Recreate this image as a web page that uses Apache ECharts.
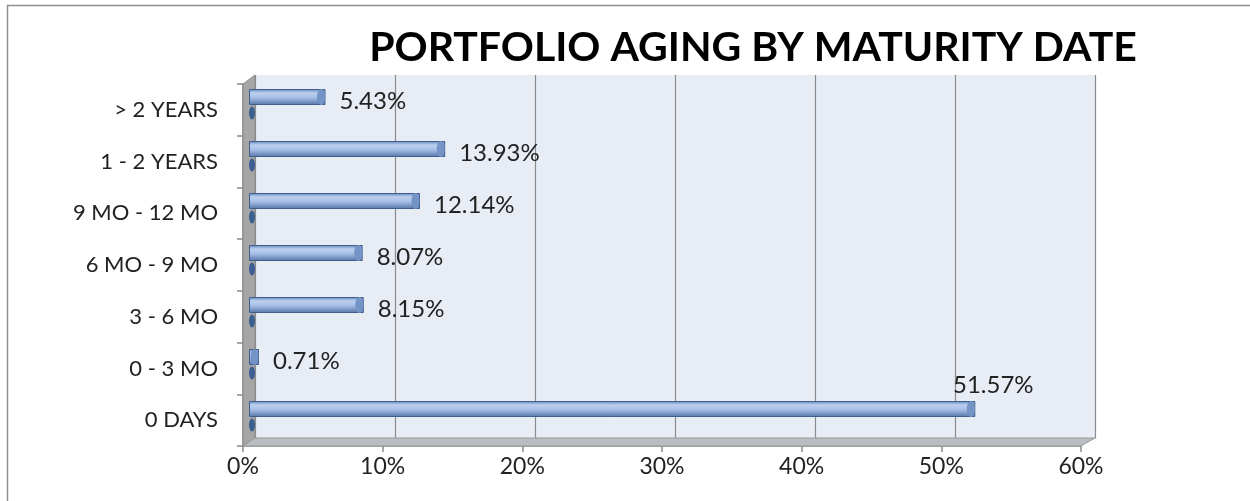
<!DOCTYPE html>
<html>
<head>
<meta charset="utf-8">
<script src="https://cdn.jsdelivr.net/npm/echarts@6/dist/echarts.min.js"></script>
<style>
  html, body { margin: 0; padding: 0; background: #fff; }
  #chart { width: 1250px; height: 501px; }
</style>
</head>
<body>
<div id="chart"></div>
<script>
// 数据
var categories = ['0 DAYS', '0 - 3 MO', '3 - 6 MO', '6 MO - 9 MO', '9 MO - 12 MO', '1 - 2 YEARS', '> 2 YEARS'];
var shares = [51.57, 0.71, 8.15, 8.07, 12.14, 13.93, 5.43];
var tickValues = [0, 10, 20, 30, 40, 50, 60];

(function () {
    var myChart = echarts.init(document.getElementById('chart'));
    var font = 'Lato';
    var gridLine = '#8c8c8c';

    // 柱子的圆柱渐变
    var tubeColor = new echarts.graphic.LinearGradient(0, 0, 0, 1, [
        { offset: 0, color: '#6283b8' },
        { offset: 0.25, color: '#bcd0f0' },
        { offset: 0.55, color: '#a5bee6' },
        { offset: 1, color: '#5373a6' }
    ]);

    // 超长的那根把标签放到末端上方
    var barData = shares.map(function (v) {
        if (v > 40) {
            return { value: v, label: { position: ['100%', -4], align: 'center', verticalAlign: 'bottom', offset: [18, 0] } };
        }
        return v;
    });

    var option = {
        animation: false,
        textStyle: { fontFamily: font },
        title: {
            text: 'PORTFOLIO AGING BY MATURITY DATE',
            left: 748,
            top: 22,
            textAlign: 'center',
            textStyle: { fontFamily: font, fontSize: 41, fontWeight: 'bold', color: '#000' }
        },
        graphic: [
            // 外框
            { type: 'rect', shape: { x: 7.5, y: 5.5, width: 1260, height: 520 },
              style: { fill: 'none', stroke: '#8e8e8e', lineWidth: 1.5 }, silent: true },
            // 左侧墙
            { type: 'polygon', shape: { points: [[243, 84], [255, 75], [255, 438], [243, 446]] },
              style: { fill: '#a6a6a6', stroke: '#8a8a8a', lineWidth: 1 }, silent: true, z: 1 },
            // 底板
            { type: 'polygon', shape: { points: [[243, 446], [255, 438], [1095, 438], [1081, 446]] },
              style: { fill: '#b9bcc0', stroke: '#9a9a9a', lineWidth: 1 }, silent: true, z: 1 }
        ],
        grid: [
            // 背墙
            { left: 255, right: 155, top: 75, bottom: 63, show: true, backgroundColor: '#e8ecf5', borderWidth: 0 },
            // 前面的坐标轴
            { left: 243, right: 169, top: 84, bottom: 55 },
            // 柱子
            { left: 249, right: 156, top: 71, bottom: 66 }
        ],
        xAxis: [
            { gridIndex: 0, type: 'value', min: 0, max: 60, interval: 10,
              axisLine: { show: true, lineStyle: { color: gridLine } }, axisTick: { show: false }, axisLabel: { show: false },
              splitLine: { show: true, lineStyle: { color: gridLine, width: 1.2 } } },
            { gridIndex: 1, type: 'value', min: 0, max: 60, interval: 10,
              axisLine: { show: true, lineStyle: { color: '#8a8a8a', width: 1.5 } },
              axisTick: { show: true, length: 6, lineStyle: { color: '#8a8a8a', width: 1.5 } },
              splitLine: { show: false },
              axisLabel: { margin: 9, fontSize: 23, color: '#222', fontFamily: font,
                           formatter: function (v) { return tickValues.indexOf(v) >= 0 ? v + '%' : ''; } } },
            { gridIndex: 2, type: 'value', min: 0, max: 60, interval: 10, show: false }
        ],
        yAxis: [
            { gridIndex: 0, type: 'category', data: categories, show: false },
            { gridIndex: 1, type: 'category', data: categories,
              axisLine: { show: true, lineStyle: { color: '#8a8a8a', width: 1.5 } },
              axisTick: { show: true, length: 6, lineStyle: { color: '#8a8a8a', width: 1.5 } },
              axisLabel: { margin: 25, fontSize: 22, color: '#222', fontFamily: font } },
            { gridIndex: 2, type: 'category', data: categories, show: false }
        ],
        series: [
            {
                name: 'Share',
                type: 'bar',
                xAxisIndex: 2,
                yAxisIndex: 2,
                barWidth: 16,
                z: 3,
                data: barData,
                itemStyle: { color: tubeColor, borderColor: '#3f5f8f', borderWidth: 1 },
                label: {
                    show: true,
                    position: 'right',
                    distance: 14,
                    offset: [0, 4],
                    fontSize: 24,
                    color: '#222',
                    fontFamily: font,
                    formatter: function (p) { return p.value.toFixed(2) + '%'; }
                }
            },
            {
                // 圆柱末端
                name: 'cap',
                type: 'pictorialBar',
                xAxisIndex: 2,
                yAxisIndex: 2,
                symbol: 'circle',
                symbolPosition: 'end',
                symbolSize: [8, 16],
                z: 4,
                data: shares,
                itemStyle: { color: '#7493c6', borderColor: '#3a5a8a', borderWidth: 1.2 },
                silent: true
            },
            {
                // 左端的小影子
                name: 'foot',
                type: 'pictorialBar',
                xAxisIndex: 2,
                yAxisIndex: 2,
                symbol: 'circle',
                symbolPosition: 'start',
                symbolSize: [6, 13],
                symbolOffset: [0, 16],
                z: 4,
                data: shares,
                itemStyle: { color: '#3b5f93' },
                silent: true
            }
        ]
    };
    myChart.setOption(option);
})();
</script>
</body>
</html>
